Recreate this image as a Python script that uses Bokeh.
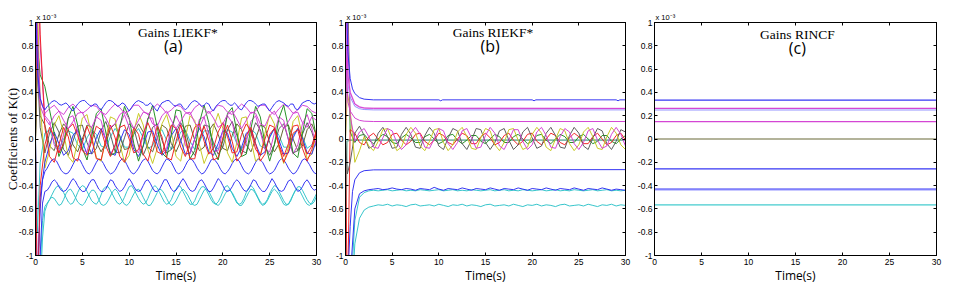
import math
from bokeh.plotting import figure
from bokeh.layouts import row
from bokeh.models import Label, LinearAxis, FixedTicker, CustomJSTickFormatter, Range1d, Title
from bokeh.embed import file_html
from bokeh.resources import INLINE

# ---------------- data (values in units of 1e-3) ----------------
X_TICKS = [0, 5, 10, 15, 20, 25, 30]
Y_TICKS = [-1, -0.8, -0.6, -0.4, -0.2, 0, 0.2, 0.4, 0.6, 0.8, 1]
TITLES = ["Gains LIEKF*", "Gains RIEKF*", "Gains RINCF"]
LETTERS = ["(a)", "(b)", "(c)"]

# time grids (s)
T = [0.0, 0.2] + [0.5 * k for k in range(1, 61)]
T4 = [0.0, 0.1] + [0.25 * k for k in range(1, 121)]

# ---- panel (a): LIEKF* gains (outer lines sampled on T4) ----
a_blue_top = [1.6, 0.90, 0.55, 0.35, 0.28,
              0.25, 0.28, 0.30, 0.32, 0.33, 0.32, 0.30, 0.29, 0.30, 0.31, 0.29, 0.26,
              0.24, 0.27, 0.30, 0.32, 0.33, 0.33, 0.31, 0.29, 0.28, 0.30, 0.30, 0.27,
              0.25, 0.28, 0.31, 0.33, 0.33, 0.32, 0.30, 0.28, 0.29, 0.31, 0.30, 0.27,
              0.24, 0.27, 0.30, 0.32, 0.33, 0.32, 0.31, 0.29, 0.29, 0.31, 0.29, 0.26,
              0.24, 0.28, 0.31, 0.32, 0.33, 0.33, 0.31, 0.29, 0.28, 0.30, 0.30, 0.27,
              0.25, 0.27, 0.30, 0.32, 0.33, 0.32, 0.30, 0.28, 0.29, 0.31, 0.30, 0.26,
              0.24, 0.28, 0.30, 0.32, 0.33, 0.33, 0.31, 0.29, 0.29, 0.31, 0.29, 0.26,
              0.25, 0.28, 0.31, 0.33, 0.33, 0.32, 0.30, 0.28, 0.29, 0.30, 0.30, 0.27,
              0.24, 0.27, 0.30, 0.32, 0.33, 0.32, 0.31, 0.29, 0.28, 0.30, 0.30, 0.26,
              0.25, 0.28, 0.31, 0.32, 0.33, 0.33, 0.31, 0.30, 0.31]
a_blue_mid = [-1.6, -1.4, -1.1, -0.60, -0.35,
              -0.28, -0.25, -0.21, -0.18, -0.17, -0.19, -0.23, -0.27, -0.29, -0.30,
              -0.29, -0.26, -0.22, -0.18, -0.17, -0.18, -0.22, -0.26, -0.29, -0.30,
              -0.28, -0.24, -0.20, -0.17, -0.18, -0.21, -0.25, -0.28, -0.30, -0.29,
              -0.27, -0.23, -0.19, -0.17, -0.18, -0.22, -0.26, -0.29, -0.30, -0.28,
              -0.25, -0.21, -0.18, -0.17, -0.19, -0.23, -0.27, -0.29, -0.30, -0.28,
              -0.24, -0.20, -0.17, -0.18, -0.20, -0.24, -0.28, -0.30, -0.29, -0.27,
              -0.23, -0.19, -0.17, -0.18, -0.21, -0.25, -0.28, -0.30, -0.29, -0.26,
              -0.22, -0.18, -0.17, -0.19, -0.22, -0.26, -0.29, -0.30, -0.28, -0.25,
              -0.21, -0.18, -0.17, -0.19, -0.23, -0.27, -0.29, -0.30, -0.28, -0.24,
              -0.20, -0.17, -0.18, -0.20, -0.24, -0.28, -0.30, -0.29, -0.27, -0.23,
              -0.19, -0.17, -0.18, -0.21, -0.25, -0.28, -0.30, -0.29, -0.26, -0.22,
              -0.18, -0.17, -0.19, -0.22, -0.26, -0.29, -0.30]
a_blue_low = [-1.8, -1.7, -1.5, -1.0, -0.55,
              -0.45, -0.44, -0.41, -0.37, -0.35, -0.37, -0.41, -0.44, -0.45, -0.44,
              -0.41, -0.37, -0.34, -0.36, -0.40, -0.43, -0.45, -0.45, -0.42, -0.38,
              -0.35, -0.35, -0.39, -0.43, -0.45, -0.45, -0.43, -0.39, -0.35, -0.36,
              -0.40, -0.43, -0.45, -0.44, -0.41, -0.37, -0.34, -0.37, -0.41, -0.44,
              -0.45, -0.44, -0.40, -0.36, -0.35, -0.38, -0.42, -0.45, -0.45, -0.43,
              -0.39, -0.35, -0.35, -0.39, -0.43, -0.45, -0.44, -0.41, -0.37, -0.34,
              -0.37, -0.41, -0.44, -0.45, -0.44, -0.40, -0.36, -0.35, -0.38, -0.42,
              -0.45, -0.45, -0.42, -0.38, -0.34, -0.36, -0.40, -0.44, -0.45, -0.44,
              -0.41, -0.37, -0.35, -0.37, -0.41, -0.44, -0.45, -0.43, -0.39, -0.35,
              -0.36, -0.40, -0.43, -0.45, -0.45, -0.42, -0.38, -0.34, -0.37, -0.41,
              -0.44, -0.45, -0.44, -0.40, -0.36, -0.35, -0.38, -0.42, -0.45, -0.44,
              -0.41, -0.37, -0.35, -0.38, -0.42, -0.44, -0.43]
a_cyan_1 = [-1.8, -1.7, -1.5, -1.1, -0.70,
            -0.58, -0.55, -0.52, -0.50, -0.51, -0.54, -0.57, -0.56, -0.52, -0.47,
            -0.44, -0.43, -0.46, -0.50, -0.54, -0.56, -0.57, -0.55, -0.51, -0.47,
            -0.44, -0.44, -0.47, -0.52, -0.56, -0.57, -0.56, -0.53, -0.49, -0.45,
            -0.43, -0.45, -0.49, -0.53, -0.56, -0.57, -0.55, -0.51, -0.47, -0.44,
            -0.43, -0.46, -0.50, -0.54, -0.57, -0.57, -0.54, -0.50, -0.46, -0.43,
            -0.44, -0.47, -0.51, -0.55, -0.57, -0.56, -0.53, -0.49, -0.45, -0.43,
            -0.45, -0.48, -0.52, -0.56, -0.57, -0.56, -0.52, -0.48, -0.44, -0.43,
            -0.45, -0.49, -0.53, -0.56, -0.57, -0.55, -0.51, -0.47, -0.44, -0.44,
            -0.46, -0.50, -0.54, -0.57, -0.57, -0.54, -0.50, -0.46, -0.43, -0.44,
            -0.47, -0.51, -0.55, -0.57, -0.56, -0.53, -0.49, -0.45, -0.43, -0.45,
            -0.48, -0.52, -0.56, -0.57, -0.56, -0.52, -0.48, -0.44, -0.43, -0.45,
            -0.49, -0.53, -0.56, -0.57, -0.55, -0.51, -0.47]
a_cyan_2 = [-1.9, -1.8, -1.7, -1.3, -0.85,
            -0.62, -0.56, -0.52, -0.48, -0.44, -0.41, -0.40, -0.42, -0.46, -0.50,
            -0.54, -0.56, -0.55, -0.51, -0.46, -0.42, -0.40, -0.41, -0.45, -0.49,
            -0.53, -0.55, -0.56, -0.53, -0.48, -0.43, -0.41, -0.41, -0.44, -0.48,
            -0.52, -0.55, -0.56, -0.54, -0.50, -0.45, -0.41, -0.40, -0.43, -0.47,
            -0.51, -0.54, -0.56, -0.55, -0.51, -0.46, -0.42, -0.40, -0.42, -0.46,
            -0.50, -0.54, -0.56, -0.55, -0.52, -0.47, -0.43, -0.40, -0.41, -0.45,
            -0.49, -0.53, -0.56, -0.56, -0.53, -0.48, -0.44, -0.41, -0.41, -0.44,
            -0.48, -0.52, -0.55, -0.56, -0.54, -0.50, -0.45, -0.41, -0.40, -0.43,
            -0.47, -0.51, -0.55, -0.56, -0.55, -0.51, -0.46, -0.42, -0.40, -0.42,
            -0.46, -0.50, -0.54, -0.56, -0.55, -0.52, -0.47, -0.43, -0.40, -0.41,
            -0.45, -0.49, -0.53, -0.56, -0.56, -0.53, -0.48, -0.44, -0.41, -0.41,
            -0.44, -0.48, -0.52, -0.55, -0.56, -0.54, -0.49]

# mid-band lines (sampled on T)
a_mag_up = [1.4, 0.90, 0.35, 0.22, 0.26, 0.29, 0.24, 0.21, 0.27, 0.30,
            0.26, 0.22, 0.25, 0.29, 0.28, 0.23, 0.21, 0.26, 0.30, 0.27,
            0.22, 0.24, 0.29, 0.29, 0.24, 0.21, 0.26, 0.30, 0.27, 0.22,
            0.25, 0.29, 0.28, 0.23, 0.21, 0.27, 0.30, 0.26, 0.22, 0.25,
            0.29, 0.28, 0.23, 0.21, 0.26, 0.30, 0.27, 0.22, 0.24, 0.29,
            0.29, 0.24, 0.21, 0.26, 0.30, 0.27, 0.22, 0.25, 0.29, 0.28,
            0.24, 0.22]
a_mag_low = [1.2, 0.60, 0.28, 0.18, 0.12, 0.20, 0.24, 0.16, 0.09, 0.15,
             0.22, 0.23, 0.14, 0.10, 0.19, 0.24, 0.18, 0.10, 0.13, 0.21,
             0.24, 0.17, 0.09, 0.16, 0.23, 0.22, 0.13, 0.11, 0.20, 0.24,
             0.16, 0.09, 0.15, 0.22, 0.23, 0.14, 0.10, 0.19, 0.24, 0.18,
             0.10, 0.13, 0.21, 0.24, 0.17, 0.09, 0.16, 0.23, 0.22, 0.13,
             0.11, 0.20, 0.24, 0.16, 0.09, 0.15, 0.22, 0.23, 0.14, 0.10,
             0.19, 0.16]
a_red_1 = [0.0, -1.5, -0.40, -0.05, 0.10, 0.02, -0.12, -0.04, 0.09, 0.13,
           0.03, -0.10, -0.14, -0.02, 0.11, 0.08, -0.06, -0.15, -0.05, 0.10,
           0.12, 0.00, -0.12, -0.09, 0.05, 0.14, 0.04, -0.11, -0.13, 0.01,
           0.12, 0.09, -0.07, -0.15, -0.03, 0.10, 0.13, -0.02, -0.13, -0.08,
           0.06, 0.14, 0.02, -0.12, -0.11, 0.04, 0.13, 0.07, -0.09, -0.14,
           0.00, 0.12, 0.10, -0.05, -0.15, -0.04, 0.11, 0.12, -0.03, -0.13,
           -0.06, 0.08]
a_green = [0.0, 0.80, 0.55, 0.45, 0.25, 0.05, -0.15, -0.05, 0.18, 0.28,
           0.12, -0.08, -0.18, 0.02, 0.22, 0.26, 0.06, -0.14, -0.12, 0.10,
           0.28, 0.18, -0.04, -0.19, -0.06, 0.17, 0.29, 0.10, -0.12, -0.16,
           0.04, 0.25, 0.24, 0.02, -0.17, -0.10, 0.14, 0.29, 0.14, -0.09,
           -0.18, -0.01, 0.22, 0.27, 0.06, -0.15, -0.13, 0.09, 0.28, 0.19,
           -0.04, -0.19, -0.05, 0.18, 0.29, 0.10, -0.12, -0.16, 0.05, 0.26,
           0.22, 0.01]
a_yellow = [0.0, 1.2, 0.30, -0.25, -0.10, 0.12, 0.20, 0.05, -0.15, -0.20,
            -0.02, 0.18, 0.21, 0.03, -0.16, -0.19, 0.00, 0.19, 0.17, -0.04,
            -0.20, -0.14, 0.07, 0.22, 0.12, -0.09, -0.21, -0.08, 0.13, 0.21,
            0.06, -0.15, -0.19, 0.01, 0.20, 0.16, -0.05, -0.21, -0.11, 0.10,
            0.22, 0.09, -0.12, -0.20, -0.03, 0.18, 0.19, -0.01, -0.19, -0.15,
            0.05, 0.21, 0.13, -0.08, -0.21, -0.07, 0.15, 0.20, 0.02, -0.17,
            -0.13, 0.06]
a_grey = [0.0, 0.60, 0.10, -0.12, 0.05, 0.14, 0.06, -0.09, -0.14, -0.02,
          0.11, 0.12, -0.03, -0.13, -0.08, 0.07, 0.15, 0.04, -0.11, -0.12,
          0.01, 0.13, 0.09, -0.06, -0.14, -0.04, 0.10, 0.13, -0.01, -0.12,
          -0.09, 0.05, 0.14, 0.07, -0.08, -0.14, -0.02, 0.12, 0.11, -0.04,
          -0.13, -0.07, 0.08, 0.15, 0.03, -0.10, -0.12, 0.02, 0.14, 0.08,
          -0.06, -0.14, -0.05, 0.09, 0.13, 0.00, -0.12, -0.10, 0.04, 0.14,
          0.06, -0.07]
a_mag_mid = [0.0, 1.6, 0.80, 0.20, 0.15, -0.05, -0.12, 0.04, 0.18, 0.20,
             0.06, -0.10, -0.11, 0.06, 0.19, 0.16, -0.01, -0.13, -0.06, 0.12,
             0.21, 0.10, -0.07, -0.12, 0.03, 0.18, 0.18, 0.01, -0.12, -0.08,
             0.10, 0.20, 0.12, -0.05, -0.13, 0.00, 0.17, 0.19, 0.04, -0.11,
             -0.10, 0.07, 0.20, 0.14, -0.03, -0.13, -0.03, 0.15, 0.20, 0.06,
             -0.09, -0.11, 0.05, 0.19, 0.16, -0.01, -0.13, -0.05, 0.13, 0.21,
             0.09, -0.06]
a_blue_zero = [0.0, -1.4, -0.50, -0.20, -0.05, 0.06, -0.04, -0.14, -0.10, 0.03,
               0.08, -0.02, -0.13, -0.12, 0.01, 0.09, 0.00, -0.12, -0.14, -0.02,
               0.08, 0.04, -0.09, -0.15, -0.06, 0.06, 0.07, -0.05, -0.14, -0.10,
               0.03, 0.09, -0.01, -0.13, -0.12, 0.00, 0.09, 0.02, -0.11, -0.14,
               -0.04, 0.07, 0.05, -0.08, -0.15, -0.07, 0.05, 0.08, -0.04, -0.14,
               -0.11, 0.02, 0.09, -0.01, -0.13, -0.12, 0.01, 0.09, 0.01, -0.12,
               -0.13, -0.01]
a_cyan_zero = [0.0, -0.80, -0.20, 0.05, 0.08, -0.03, -0.09, 0.00, 0.07, 0.05,
               -0.05, -0.09, 0.01, 0.08, 0.04, -0.06, -0.08, 0.02, 0.09, 0.03,
               -0.07, -0.07, 0.04, 0.09, 0.01, -0.08, -0.06, 0.05, 0.08, -0.01,
               -0.09, -0.04, 0.06, 0.08, -0.02, -0.09, -0.03, 0.07, 0.07, -0.03,
               -0.09, -0.02, 0.08, 0.06, -0.04, -0.09, 0.00, 0.08, 0.05, -0.06,
               -0.08, 0.01, 0.09, 0.03, -0.07, -0.07, 0.03, 0.09, 0.02, -0.08,
               -0.05, 0.04]
a_olive = [0.0, 1.0, 0.20, 0.12, -0.06, -0.10, 0.04, 0.13, 0.08, -0.05,
           -0.11, 0.00, 0.12, 0.10, -0.03, -0.11, -0.04, 0.09, 0.13, 0.02,
           -0.09, -0.08, 0.05, 0.13, 0.06, -0.07, -0.11, 0.01, 0.12, 0.09,
           -0.04, -0.11, -0.02, 0.11, 0.12, -0.01, -0.10, -0.07, 0.07, 0.13,
           0.04, -0.08, -0.10, 0.03, 0.13, 0.08, -0.05, -0.11, 0.00, 0.12,
           0.10, -0.03, -0.11, -0.04, 0.10, 0.12, 0.00, -0.10, -0.06, 0.08,
           0.13, 0.03]
a_red_2 = [0.0, 1.8, 0.90, 0.10, -0.15, -0.20, -0.05, 0.10, 0.02, -0.16,
           -0.19, -0.03, 0.11, 0.00, -0.17, -0.18, -0.01, 0.12, 0.01, -0.15,
           -0.20, -0.06, 0.10, 0.04, -0.13, -0.19, -0.04, 0.11, 0.02, -0.16,
           -0.18, -0.02, 0.12, 0.00, -0.17, -0.17, 0.00, 0.11, -0.01, -0.18,
           -0.16, 0.01, 0.12, -0.02, -0.19, -0.14, 0.03, 0.10, -0.04, -0.19,
           -0.13, 0.04, 0.09, -0.06, -0.20, -0.11, 0.05, 0.08, -0.08, -0.19,
           -0.09, 0.06]

# ---- panel (b): RIEKF* gains ----
tb_blue_top = [0, 0.25, 0.5, 0.75, 1, 1.5, 2, 3, 10, 10.2, 10.4, 20, 20.2, 20.4, 29, 29.2, 29.4, 30]
b_blue_top = [1.6, 0.75, 0.52, 0.43, 0.39, 0.355, 0.342, 0.336, 0.336, 0.328, 0.336,
              0.336, 0.328, 0.336, 0.336, 0.328, 0.336, 0.336]
tb_const = [0, 0.25, 0.5, 1, 1.5, 2, 3, 30]
b_mag_026 = [1.4, 0.55, 0.40, 0.30, 0.275, 0.266, 0.263, 0.262]
b_lblue_025 = [1.2, 0.48, 0.36, 0.28, 0.26, 0.253, 0.250, 0.250]
b_mag_015 = [0.9, 0.32, 0.24, 0.18, 0.16, 0.153, 0.150, 0.150]
tb_neg = [0, 0.25, 0.5, 0.75, 1, 1.5, 2, 3, 30]
b_blue_m026 = [-1.6, -1.2, -0.75, -0.45, -0.35, -0.29, -0.272, -0.265, -0.263]
tb_teal = [0, 0.15, 0.4, 30]
b_teal_zero = [-1.0, -0.02, -0.01, -0.01]
b_blue_m043 = [-1.8, -1.6, -1.2, -0.60, -0.47, -0.445, -0.435, -0.430, -0.425, -0.435,
               -0.430, -0.420, -0.430, -0.435, -0.425, -0.430, -0.440, -0.425, -0.430, -0.435,
               -0.415, -0.430, -0.440, -0.425, -0.430, -0.435, -0.420, -0.430, -0.440, -0.425,
               -0.430, -0.435, -0.420, -0.430, -0.440, -0.425, -0.430, -0.435, -0.420, -0.430,
               -0.440, -0.425, -0.430, -0.435, -0.420, -0.430, -0.440, -0.425, -0.430, -0.435,
               -0.420, -0.430, -0.440, -0.425, -0.430, -0.435, -0.420, -0.430, -0.440, -0.430,
               -0.435, -0.440]
b_cyan_m044 = [-1.9, -1.7, -1.4, -0.70, -0.50, -0.460, -0.445, -0.440, -0.445, -0.440,
               -0.435, -0.445, -0.440, -0.435, -0.445, -0.440, -0.445, -0.435, -0.440, -0.445,
               -0.440, -0.435, -0.445, -0.440, -0.435, -0.445, -0.440, -0.445, -0.435, -0.440,
               -0.445, -0.440, -0.435, -0.445, -0.440, -0.435, -0.445, -0.440, -0.445, -0.435,
               -0.440, -0.445, -0.440, -0.435, -0.445, -0.440, -0.435, -0.445, -0.440, -0.445,
               -0.435, -0.440, -0.445, -0.440, -0.435, -0.445, -0.440, -0.435, -0.445, -0.440,
               -0.445, -0.440]
b_cyan_m057 = [-1.9, -1.85, -1.6, -0.90, -0.68, -0.610, -0.585, -0.575, -0.565, -0.570,
               -0.560, -0.575, -0.565, -0.570, -0.580, -0.565, -0.560, -0.575, -0.570, -0.565,
               -0.575, -0.560, -0.570, -0.580, -0.565, -0.570, -0.560, -0.575, -0.565, -0.570,
               -0.580, -0.565, -0.560, -0.575, -0.570, -0.565, -0.575, -0.560, -0.570, -0.580,
               -0.565, -0.570, -0.560, -0.575, -0.565, -0.570, -0.580, -0.565, -0.560, -0.575,
               -0.570, -0.565, -0.575, -0.560, -0.570, -0.580, -0.565, -0.570, -0.560, -0.575,
               -0.565, -0.570]
b_mag_osc = [0.0, 1.2, 0.20, -0.02, 0.06, 0.09, 0.02, -0.07, -0.08, 0.01,
             0.09, 0.07, -0.03, -0.09, -0.05, 0.05, 0.10, 0.04, -0.07, -0.08,
             0.00, 0.09, 0.07, -0.04, -0.09, -0.03, 0.07, 0.09, 0.01, -0.08,
             -0.07, 0.03, 0.10, 0.05, -0.06, -0.09, -0.01, 0.08, 0.08, -0.02,
             -0.09, -0.05, 0.06, 0.10, 0.03, -0.07, -0.08, 0.02, 0.09, 0.06,
             -0.04, -0.09, -0.03, 0.07, 0.09, -0.01, -0.08, -0.06, 0.04, 0.10,
             0.04, -0.06]
b_yel_osc = [0.0, 0.40, 0.25, -0.20, -0.10, 0.02, -0.06, -0.10, -0.02, 0.08,
             0.09, -0.01, -0.10, -0.07, 0.04, 0.10, 0.05, -0.06, -0.10, -0.02,
             0.08, 0.09, -0.03, -0.10, -0.05, 0.06, 0.10, 0.02, -0.08, -0.09,
             0.01, 0.09, 0.07, -0.05, -0.10, -0.03, 0.08, 0.09, -0.01, -0.09,
             -0.07, 0.04, 0.10, 0.05, -0.07, -0.10, 0.00, 0.09, 0.07, -0.04,
             -0.10, -0.05, 0.06, 0.10, 0.02, -0.08, -0.09, 0.02, 0.10, 0.05,
             -0.05, -0.09]
b_grey_osc = [0.0, -0.30, -0.20, 0.05, 0.11, 0.03, -0.08, -0.06, 0.05, 0.10,
              0.02, -0.08, -0.07, 0.04, 0.10, 0.04, -0.07, -0.08, 0.03, 0.10,
              0.05, -0.06, -0.09, 0.01, 0.09, 0.07, -0.04, -0.09, -0.01, 0.09,
              0.08, -0.03, -0.09, -0.03, 0.07, 0.09, -0.01, -0.09, -0.05, 0.06,
              0.10, 0.01, -0.08, -0.06, 0.05, 0.10, 0.03, -0.07, -0.08, 0.03,
              0.10, 0.05, -0.06, -0.09, 0.01, 0.09, 0.07, -0.04, -0.09, -0.02,
              0.08, 0.06]
b_red_osc = [0.0, -1.5, 0.08, 0.05, -0.03, -0.05, 0.02, 0.05, 0.00, -0.05,
             -0.03, 0.04, 0.05, -0.01, -0.05, -0.02, 0.04, 0.05, -0.02, -0.05,
             -0.01, 0.05, 0.03, -0.03, -0.05, 0.00, 0.05, 0.03, -0.04, -0.04,
             0.02, 0.05, 0.01, -0.05, -0.03, 0.03, 0.05, -0.01, -0.05, -0.02,
             0.04, 0.05, -0.02, -0.05, 0.00, 0.05, 0.03, -0.03, -0.05, 0.01,
             0.05, 0.02, -0.04, -0.04, 0.02, 0.05, 0.00, -0.05, -0.03, 0.03,
             0.05, -0.01]
b_green_osc = [0.0, 1.5, 0.06, -0.03, 0.03, 0.04, -0.01, -0.04, 0.00, 0.04,
               0.02, -0.03, -0.04, 0.01, 0.04, 0.01, -0.03, -0.03, 0.02, 0.04,
               0.00, -0.04, -0.02, 0.03, 0.04, -0.01, -0.04, -0.01, 0.03, 0.03,
               -0.02, -0.04, 0.00, 0.04, 0.02, -0.03, -0.03, 0.02, 0.04, 0.00,
               -0.04, -0.02, 0.03, 0.04, -0.01, -0.04, 0.00, 0.04, 0.02, -0.03,
               -0.03, 0.02, 0.04, 0.00, -0.04, -0.02, 0.03, 0.03, -0.02, -0.04,
               0.00, 0.03]

# ---- panel (c): RINCF gains (constant) ----
c_values = [0.334, 0.263, 0.249, 0.150, 0.000, -0.257, -0.431, -0.437, -0.566, -0.570]

# ---------------- styling ----------------
BLUE = "#2a2af2"
LBLUE = "#8c8cff"
MAG = "#d23cd2"
LMAG = "#eaa2ea"
CYAN = "#2cc2c8"
LCYAN = "#9ee6e6"
RED = "#f01e1e"
GREEN = "#1c8c1c"
YEL = "#c6c61c"
GREY = "#565656"
OLIVE = "#5f5f2a"
TEAL = "#79b4a6"

c_colors = [BLUE, MAG, LBLUE, MAG, OLIVE, BLUE, BLUE, LBLUE, CYAN, LCYAN]

TICK_FONT = "Liberation Sans"
FIG_H = 286


def tick_fmt():
    return CustomJSTickFormatter(code="""
        const v = Math.round(tick * 10) / 10;
        return (Math.abs(v) < 1e-9) ? '0' : String(v);
    """)


def blank_fmt():
    return CustomJSTickFormatter(code="return '';")


def make_fig(width, left, right, idx, title_x, letter_x, title_y=0.913, letter_y=0.795,
             ylabel=None):
    p = figure(width=width, height=FIG_H, x_range=Range1d(0, 30), y_range=Range1d(-1, 1),
               output_backend="svg", toolbar_location=None,
               min_border_left=left, min_border_right=right,
               min_border_top=22, min_border_bottom=28)
    p.grid.visible = False
    p.outline_line_color = "black"
    p.outline_line_width = 1
    p.background_fill_color = "white"
    p.border_fill_color = "white"

    for ax, ticks in ((p.xaxis[0], X_TICKS), (p.yaxis[0], Y_TICKS)):
        ax.ticker = FixedTicker(ticks=ticks)
        ax.formatter = tick_fmt()
        ax.major_tick_in = 3
        ax.major_tick_out = 0
        ax.minor_tick_line_color = None
        ax.major_label_text_font = TICK_FONT
        ax.major_label_text_font_size = "8.5px"
        ax.major_label_text_color = "black"
        ax.axis_line_color = "black"
    p.xaxis.major_label_standoff = 3
    p.yaxis.major_label_standoff = 2
    p.xaxis.axis_label = "Time(s)"
    p.xaxis.axis_label_text_font = "Open Sans"
    p.xaxis.axis_label_text_font_style = "normal"
    p.xaxis.axis_label_text_font_size = "12px"
    p.xaxis.axis_label_text_color = "black"
    p.xaxis.axis_label_standoff = -1
    if ylabel:
        p.yaxis.axis_label = ylabel
        p.yaxis.axis_label_text_font = "Liberation Serif"
        p.yaxis.axis_label_text_font_style = "normal"
        p.yaxis.axis_label_text_font_size = "13px"
        p.yaxis.axis_label_text_color = "black"
        p.yaxis.axis_label_standoff = -4

    for loc, ticks in (("right", Y_TICKS), ("above", X_TICKS)):
        ax = LinearAxis(ticker=FixedTicker(ticks=ticks), major_label_text_font_size="1px",
                        major_label_text_color=None,
                        major_label_standoff=0, major_tick_in=3, major_tick_out=0,
                        minor_tick_line_color=None, axis_line_color="black",
                        formatter=blank_fmt())
        p.add_layout(ax, loc)

    p.add_layout(Title(text="x 10\u207b\u00b3", align="left", text_font=TICK_FONT,
                       text_font_size="7.5px", text_font_style="normal", text_color="black",
                       standoff=2, offset=1), "above")

    p.add_layout(Label(x=title_x, y=title_y, text=TITLES[idx], text_font="Liberation Serif",
                       text_font_size="13.5px", text_font_style="normal", text_align="center",
                       text_baseline="alphabetic", text_color="black"))
    p.add_layout(Label(x=letter_x, y=letter_y, text=LETTERS[idx], text_font="Open Sans",
                       text_font_size="16px", text_font_style="normal", text_align="center",
                       text_baseline="middle", text_color="black"))
    return p


def draw(p, xs, ys, color, width=1.0):
    n = min(len(xs), len(ys))
    p.line(list(xs[:n]), list(ys[:n]), line_color=color, line_width=width, line_alpha=0.95)


# ---- panel (a)
pa = make_fig(324, 35, 8, 0, title_x=15.2, letter_x=14.7, ylabel="Coefficients of K(t)")
for ys, col in [(a_cyan_2, CYAN), (a_cyan_1, CYAN), (a_blue_low, BLUE), (a_blue_mid, BLUE)]:
    draw(pa, T4, ys, col)
for ys, col in [(a_cyan_zero, CYAN), (a_olive, OLIVE), (a_grey, GREY), (a_yellow, YEL),
                (a_blue_zero, BLUE), (a_mag_mid, MAG), (a_green, GREEN), (a_red_2, RED),
                (a_red_1, RED), (a_mag_low, MAG), (a_mag_up, MAG)]:
    draw(pa, T, ys, col)
draw(pa, T4, a_blue_top, BLUE)

# ---- panel (b)
pb = make_fig(310, 21, 9, 1, title_x=15.8, letter_x=15.5)
draw(pb, tb_teal, b_teal_zero, TEAL, 1.6)
for ys, col in [(b_green_osc, GREEN), (b_red_osc, RED), (b_grey_osc, GREY),
                (b_yel_osc, YEL), (b_mag_osc, MAG)]:
    draw(pb, T, ys, col)
draw(pb, tb_const, b_lblue_025, LBLUE)
draw(pb, tb_const, b_mag_026, LMAG, 1.6)
draw(pb, tb_const, b_mag_026, MAG)
draw(pb, tb_const, b_mag_015, MAG)
draw(pb, tb_blue_top, b_blue_top, BLUE)
draw(pb, tb_neg, b_blue_m026, BLUE)
draw(pb, T, b_cyan_m044, CYAN)
draw(pb, T, b_blue_m043, BLUE)
draw(pb, T, b_cyan_m057, CYAN)

# ---- panel (c)
pc = make_fig(311, 20, 9, 2, title_x=15.2, letter_x=15.2, title_y=0.895, letter_y=0.785)
for v, col in zip(c_values, c_colors):
    draw(pc, [0, 30], [v, v], col, 1.2)

layout = row(pa, pb, pc)
open("out.html", "w").write(file_html(layout, INLINE))
